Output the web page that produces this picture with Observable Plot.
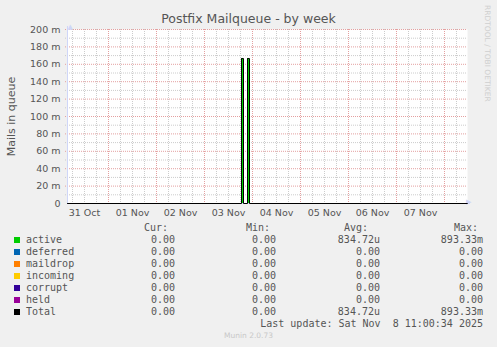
<!DOCTYPE html>
<html><head><meta charset="utf-8">
<script src="https://cdn.jsdelivr.net/npm/d3@7"></script>
<script src="https://cdn.jsdelivr.net/npm/@observablehq/plot@0.6"></script>
<style>
html,body{margin:0;padding:0;background:#f0f0f0;}
#wrap{position:relative;width:497px;height:347px;overflow:hidden;background:#f0f0f0;font-family:"DejaVu Sans",sans-serif;}
#title{position:absolute;top:11px;left:0;width:497px;text-align:center;font-size:12.5px;color:#555;line-height:16px;}
#chart{position:absolute;top:0;left:0;}
#chart svg{overflow:visible;}
#legend{position:absolute;left:0;top:0;width:497px;height:347px;font-family:"DejaVu Sans Mono",monospace;font-size:10px;color:#555;}
.row{position:absolute;left:0;width:497px;height:12px;line-height:12px;white-space:pre;}
.row span{position:absolute;top:0;}
.row span.sw{width:6px;height:6px;top:3px;left:14px;}
#rrd{position:absolute;left:483px;top:5px;writing-mode:vertical-rl;font-size:7.5px;line-height:9px;color:#cfcfcf;white-space:nowrap;}
#munin{position:absolute;left:0;width:497px;top:331px;text-align:center;font-size:7.5px;line-height:9px;color:#c8c8c8;}
</style></head>
<body>
<div id="wrap">
  <div id="chart"></div>
  <div id="title">Postfix Mailqueue - by week</div>
  <div id="rrd">RRDTOOL / TOBI OETIKER</div>
  <div id="legend"></div>
  <div id="munin">Munin 2.0.73</div>
</div>
<script>
// ---- data ----
const sampleTimes = ["2025-10-31T03:30:00Z","2025-11-03T18:30:00Z","2025-11-03T19:30:00Z","2025-11-03T21:30:00Z","2025-11-03T22:30:00Z","2025-11-08T11:30:00Z"];
const activeValues = [0, 0.1667, 0, 0.1667, 0, 0];
const totalValues  = [0, 0.1667, 0, 0.1667, 0, 0];

const xTickDates  = ["2025-10-31T12:00:00Z","2025-11-01T12:00:00Z","2025-11-02T12:00:00Z","2025-11-03T12:00:00Z","2025-11-04T12:00:00Z","2025-11-05T12:00:00Z","2025-11-06T12:00:00Z","2025-11-07T12:00:00Z"];
const xTickLabels = ["31 Oct","01 Nov","02 Nov","03 Nov","04 Nov","05 Nov","06 Nov","07 Nov"];
const yTickValues = [0,0.02,0.04,0.06,0.08,0.1,0.12,0.14,0.16,0.18,0.2];
const yTickLabels = ["0","20 m","40 m","60 m","80 m","100 m","120 m","140 m","160 m","180 m","200 m"];

const seriesNames  = ["active","deferred","maildrop","incoming","corrupt","held","Total"];
const seriesColors = ["#00cc00","#0066b3","#ff8000","#ffcc00","#330099","#990099","#000000"];
const curValues = ["0.00","0.00","0.00","0.00","0.00","0.00","0.00"];
const minValues = ["0.00","0.00","0.00","0.00","0.00","0.00","0.00"];
const avgValues = ["834.72u","0.00","0.00","0.00","0.00","0.00","834.72u"];
const maxValues = ["893.33m","0.00","0.00","0.00","0.00","0.00","893.33m"];
const lastUpdate = "Last update: Sat Nov  8 11:00:34 2025";

// ---- chart ----
const xDomain = [new Date("2025-10-31T03:30:00Z"), new Date("2025-11-08T11:30:00Z")];
const data = sampleTimes.map((t, i) => ({time: new Date(t), active: activeValues[i], total: totalValues[i]}));
const majorX = d3.utcDay.range(xDomain[0], xDomain[1]);
const minorX = d3.utcHour.every(6).range(xDomain[0], xDomain[1]).filter(d => d.getUTCHours() !== 0);
const majorY = yTickValues.filter(v => v > 0);
const minorY = yTickValues.slice(0, -1).map((v, i) => (v + yTickValues[i + 1]) / 2);
const xTicks = xTickDates.map(d => new Date(d));

const chart = Plot.plot({
  width: 497, height: 222,
  marginLeft: 67, marginRight: 30, marginTop: 29, marginBottom: 19,
  style: {background: "transparent", fontFamily: "DejaVu Sans", fontSize: "9.5px", color: "#555", overflow: "visible"},
  x: {type: "utc", domain: xDomain},
  y: {domain: [0, 0.2]},
  marks: [
    Plot.frame({fill: "white", stroke: "none"}),
    Plot.ruleX(minorX, {stroke: "#cccccc", strokeDasharray: "1,1", insetBottom: -2}),
    Plot.ruleY(minorY, {stroke: "#cccccc", strokeDasharray: "1,1", insetLeft: -2}),
    Plot.ruleX(majorX, {stroke: "#e4a0a0", strokeDasharray: "1,1", insetBottom: -2}),
    Plot.ruleY(majorY, {stroke: "#e4a0a0", strokeDasharray: "1,1", insetLeft: -2}),
    Plot.ruleX([xDomain[0]], {stroke: "#cfd6f8", insetTop: -3}),
    Plot.ruleY([0], {stroke: "#cfd6f8", insetRight: -3}),
    Plot.text(["▲"], {frameAnchor: "top-left", dy: -5, fill: "#cfd6f8", fontSize: 7}),
    Plot.text(["▶"], {frameAnchor: "bottom-right", dx: 4, fill: "#cfd6f8", fontSize: 7}),
    Plot.areaY(data, {x: "time", y: "active", fill: "#00cc00", curve: "step-after"}),
    Plot.lineY(data, {x: "time", y: "total", stroke: "black", strokeWidth: 1, curve: "step-after"}),
    Plot.axisY({ticks: yTickValues, tickFormat: d => yTickLabels[yTickValues.indexOf(d)], tickSize: 0, tickPadding: 7, label: null, fill: "#555"}),
    Plot.axisX({ticks: xTicks, tickFormat: d => xTickLabels[xTicks.findIndex(t => +t === +d)], tickSize: 0, tickPadding: 6, label: null, fill: "#555"}),
    Plot.text(["Mails in queue"], {frameAnchor: "left", textAnchor: "middle", dx: -56.5, rotate: -90, fontSize: 11, fill: "#555"})
  ]
});
document.getElementById("chart").appendChild(chart);

// ---- legend ----
const legend = document.getElementById("legend");
function addRow(top, cells) {
  const row = document.createElement("div");
  row.className = "row";
  row.style.top = top + "px";
  for (const c of cells) {
    const s = document.createElement("span");
    if (c.cls) s.className = c.cls;
    if (c.text != null) s.textContent = c.text;
    if (c.left != null) s.style.left = c.left + "px";
    if (c.right != null) s.style.right = c.right + "px";
    if (c.bg) s.style.background = c.bg;
    row.appendChild(s);
  }
  legend.appendChild(row);
}
addRow(222, [
  {text: "Cur:", right: 329}, {text: "Min:", right: 227}, {text: "Avg:", right: 129}, {text: "Max:", right: 19}
]);
seriesNames.forEach((name, i) => {
  addRow(234 + 12 * i, [
    {cls: "sw", bg: seriesColors[i]},
    {text: name, left: 26},
    {text: curValues[i], right: 322},
    {text: minValues[i], right: 221},
    {text: avgValues[i], right: 117},
    {text: maxValues[i], right: 14}
  ]);
});
addRow(318, [{text: lastUpdate, right: 14}]);
</script>
</body></html>
